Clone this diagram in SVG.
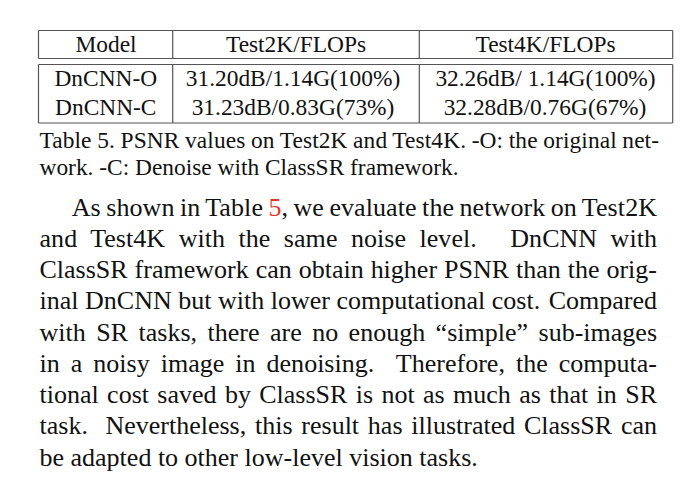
<svg xmlns="http://www.w3.org/2000/svg" width="683" height="488" viewBox="0 0 683 488">
  <style>
    .rule { stroke: #555; stroke-width: 1.2; fill: none; }
    .t { font-family: "Liberation Serif", "Times New Roman", serif; font-size: 23.4px; fill: #111; }
    .c { text-anchor: middle; }
    .b { font-family: "Liberation Serif", "Times New Roman", serif; font-size: 26px; fill: #111; }
    .ref { fill: #e8352b; }
  </style>
  <rect width="683" height="488" fill="#fff"/>
  <g id="table-rules">
    <line class="rule" x1="38.5" y1="30.5" x2="672.7" y2="30.5"/>
    <line class="rule" x1="38.5" y1="58.5" x2="672.7" y2="58.5"/>
    <line class="rule" x1="38.5" y1="64.5" x2="672.7" y2="64.5"/>
    <line class="rule" x1="38.5" y1="123" x2="672.7" y2="123"/>
    <line class="rule" x1="38.5" y1="30.5" x2="38.5" y2="58.5"/>
    <line class="rule" x1="172.7" y1="30.5" x2="172.7" y2="58.5"/>
    <line class="rule" x1="419.3" y1="30.5" x2="419.3" y2="58.5"/>
    <line class="rule" x1="672.7" y1="30.5" x2="672.7" y2="58.5"/>
    <line class="rule" x1="38.5" y1="64.5" x2="38.5" y2="123"/>
    <line class="rule" x1="172.7" y1="64.5" x2="172.7" y2="123"/>
    <line class="rule" x1="419.3" y1="64.5" x2="419.3" y2="123"/>
    <line class="rule" x1="672.7" y1="64.5" x2="672.7" y2="123"/>
  </g>
  <g id="table-header">
    <text class="t c" x="106" y="51.5">Model</text>
    <text class="t c" x="296" y="51.5">Test2K/FLOPs</text>
    <text class="t c" x="545.5" y="51.5">Test4K/FLOPs</text>
  </g>
  <g id="row-dncnn-o">
    <text class="t c" x="105.8" y="85.8">DnCNN-O</text>
    <text class="t c" x="293" y="85.8">31.20dB/1.14G(100%)</text>
    <text class="t c" x="545.5" y="85.8">32.26dB/ 1.14G(100%)</text>
  </g>
  <g id="row-dncnn-c">
    <text class="t c" x="105.8" y="114.5">DnCNN-C</text>
    <text class="t c" x="293" y="114.5">31.23dB/0.83G(73%)</text>
    <text class="t c" x="545" y="114.5">32.28dB/0.76G(67%)</text>
  </g>
  <g id="caption">
    <text class="t" x="39.5" y="148" word-spacing="-0.35" textLength="619.5" lengthAdjust="spacing">Table 5. PSNR values on Test2K and Test4K. -O: the original net-</text>
    <text class="t" x="39.5" y="175">work. -C: Denoise with ClassSR framework.</text>
  </g>
  <g id="body">
    <text class="b" x="71.7" y="215.8" word-spacing="-1.2" textLength="585.3" lengthAdjust="spacing">As shown in Table <tspan class="ref">5</tspan>, we evaluate the network on Test2K</text>
    <text class="b" x="39.5" y="246.8" word-spacing="6.9" textLength="617.5" lengthAdjust="spacing">and Test4K with the same noise level. <tspan dx="20">DnCNN with</tspan></text>
    <text class="b" x="39.5" y="278" word-spacing="0.45" textLength="617.5" lengthAdjust="spacing">ClassSR framework can obtain higher PSNR than the orig-</text>
    <text class="b" x="39.5" y="309.3" word-spacing="0.05" textLength="617.5" lengthAdjust="spacing">inal DnCNN but with lower computational cost. <tspan dx="2">Compared</tspan></text>
    <text class="b" x="39.5" y="340.5" word-spacing="3.95" textLength="617.5" lengthAdjust="spacing">with SR tasks, there are no enough “simple” sub-images</text>
    <text class="b" x="39.5" y="371.8" word-spacing="4.5" textLength="617.5" lengthAdjust="spacing">in a noisy image in denoising. <tspan dx="11">Therefore, the computa-</tspan></text>
    <text class="b" x="39.5" y="403" word-spacing="1.85" textLength="617.5" lengthAdjust="spacing">tional cost saved by ClassSR is not as much as that in SR</text>
    <text class="b" x="39.5" y="434.3" word-spacing="2.25" textLength="617.5" lengthAdjust="spacing">task. <tspan dx="8.8">Nevertheless, this result has illustrated ClassSR can</tspan></text>
    <text class="b" x="39.5" y="465.5">be adapted to other low-level vision tasks.</text>
  </g>
</svg>
